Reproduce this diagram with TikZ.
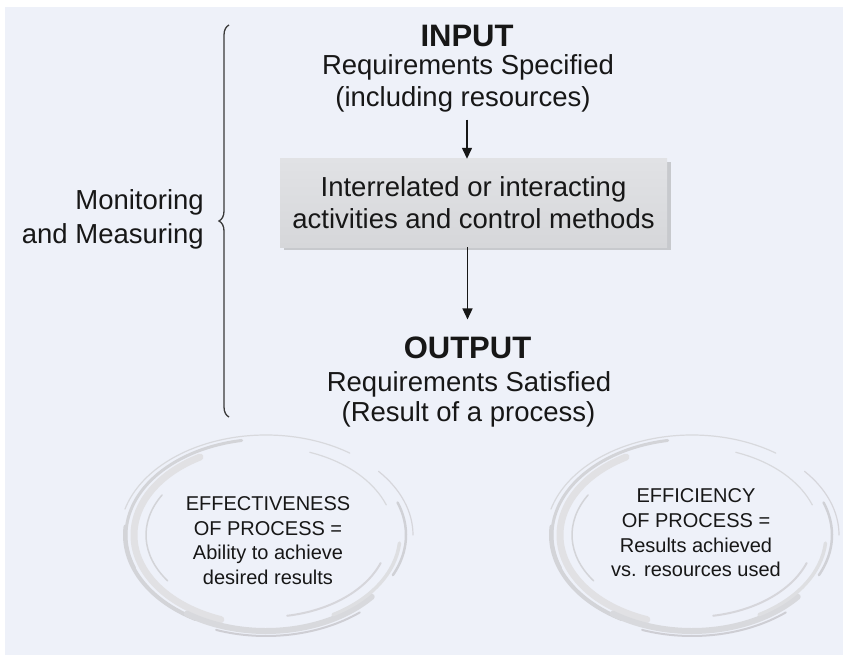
\documentclass[tikz,border=0pt]{standalone}
\usepackage{fontspec}
\setmainfont{Liberation Sans}
\usetikzlibrary{arrows.meta,decorations.pathreplacing,shadows}
\definecolor{panel}{HTML}{EEF1F9}
\definecolor{boxtop}{HTML}{E1E2E5}
\definecolor{boxbot}{HTML}{D6D7DA}
\definecolor{swirl}{HTML}{C8C9CF}
\definecolor{ink}{HTML}{171717}
\tikzset{
  swirlpic/.pic={
    \begin{scope}[y=1pt, line cap=round]
      \foreach \rx/\ry/\sa/\ea/\w/\sh in {
          146/100/165/55/1.2/70,
          140/96/200/100/3/80,
          132/90/120/250/7/55,
          141/97/175/240/4/80,
          138/96/235/320/6/70,
          146/101/250/310/2/90,
          140/95/335/380/2.5/85,
          147/99/0/40/1.2/75,
          120/80/150/215/1.5/80,
          122/82/280/340/2/75,
          128/88/70/20/1.2/70,
          134/92/300/355/3.5/60} {
        \draw[swirl!\sh, line width=\w pt] (\sa:\rx\space and \ry) arc[start angle=\sa, end angle=\ea, x radius=\rx, y radius=\ry];
      }
    \end{scope}
  }
}
\begin{document}
\begin{tikzpicture}[x=1pt, y=-1pt,
  title/.style={font=\fontsize{31}{31}\selectfont\bfseries, text=ink, inner sep=0pt, anchor=base},
  body/.style={font=\fontsize{27.5}{32.5}\selectfont, text=ink, inner sep=0pt, anchor=base},
  side/.style={font=\fontsize{27.5}{32.5}\selectfont, text=ink, inner sep=0pt, anchor=base east},
  procbox/.style={font=\fontsize{27.5}{32.3}\selectfont, text=ink, align=center, inner sep=0pt,
    minimum width=387pt, minimum height=88pt, top color=boxtop, bottom color=boxbot,
    drop shadow={shadow xshift=4pt, shadow yshift=-3pt, fill=black!40, opacity=0.45}},
  circtext/.style={font=\fontsize{20}{24.8}\selectfont, text=ink, align=center, inner sep=0pt},
  arr/.style={draw=ink, line width=1.4pt, -{Triangle[width=10pt,length=11pt]}},
  bracestyle/.style={draw=ink!85, line width=1.3pt, decorate, decoration={brace, amplitude=10pt}}
]
\useasboundingbox (0,0) rectangle (843,663);
\fill[white] (0,0) rectangle (843,663);
\fill[panel] (5,7) rectangle (843,655);

% swirls
\pic at (266,535) {swirlpic};
\pic at (692,535) {swirlpic};

% input block
\node[title] (inT) at (467,46.7) {INPUT};
\node[body] (inreq) at (468,75) {Requirements Specified};
\node[body] (inres) at (463,106.7) {(including resources)};

% process box
\node[procbox] (box) at (473.5,203) {Interrelated or interacting\\activities and control methods};

% output block
\node[title] (outT) at (467.5,358.3) {OUTPUT};
\node[body] (outreq) at (469,391.7) {Requirements Satisfied};
\node[body] (outres) at (468.5,421.7) {(Result of a process)};

% arrows
\draw[arr] ([yshift=-7pt]inres.south -| inT.south) -- (inT.south |- box.north);
\draw[arr] (outT.north |- box.south) -- ([yshift=17pt]outT.north);

% brace and side label
\coordinate (braceBot) at (229,417);
\coordinate (braceTop) at (229,25);
\draw[bracestyle] (braceBot) -- (braceTop);
\node[side] (mon1) at (204,210) {Monitoring};
\node[side] (mon2) at (204,243) {and Measuring};

% ellipse texts
\node[circtext] (eff) at (268,540.6) {EFFECTIVENESS\\OF PROCESS =\\Ability to achieve\\desired results};
\node[circtext] (effi) at (696,532.8) {EFFICIENCY\\OF PROCESS =\\Results achieved\\vs. resources used};
\end{tikzpicture}
\end{document}
